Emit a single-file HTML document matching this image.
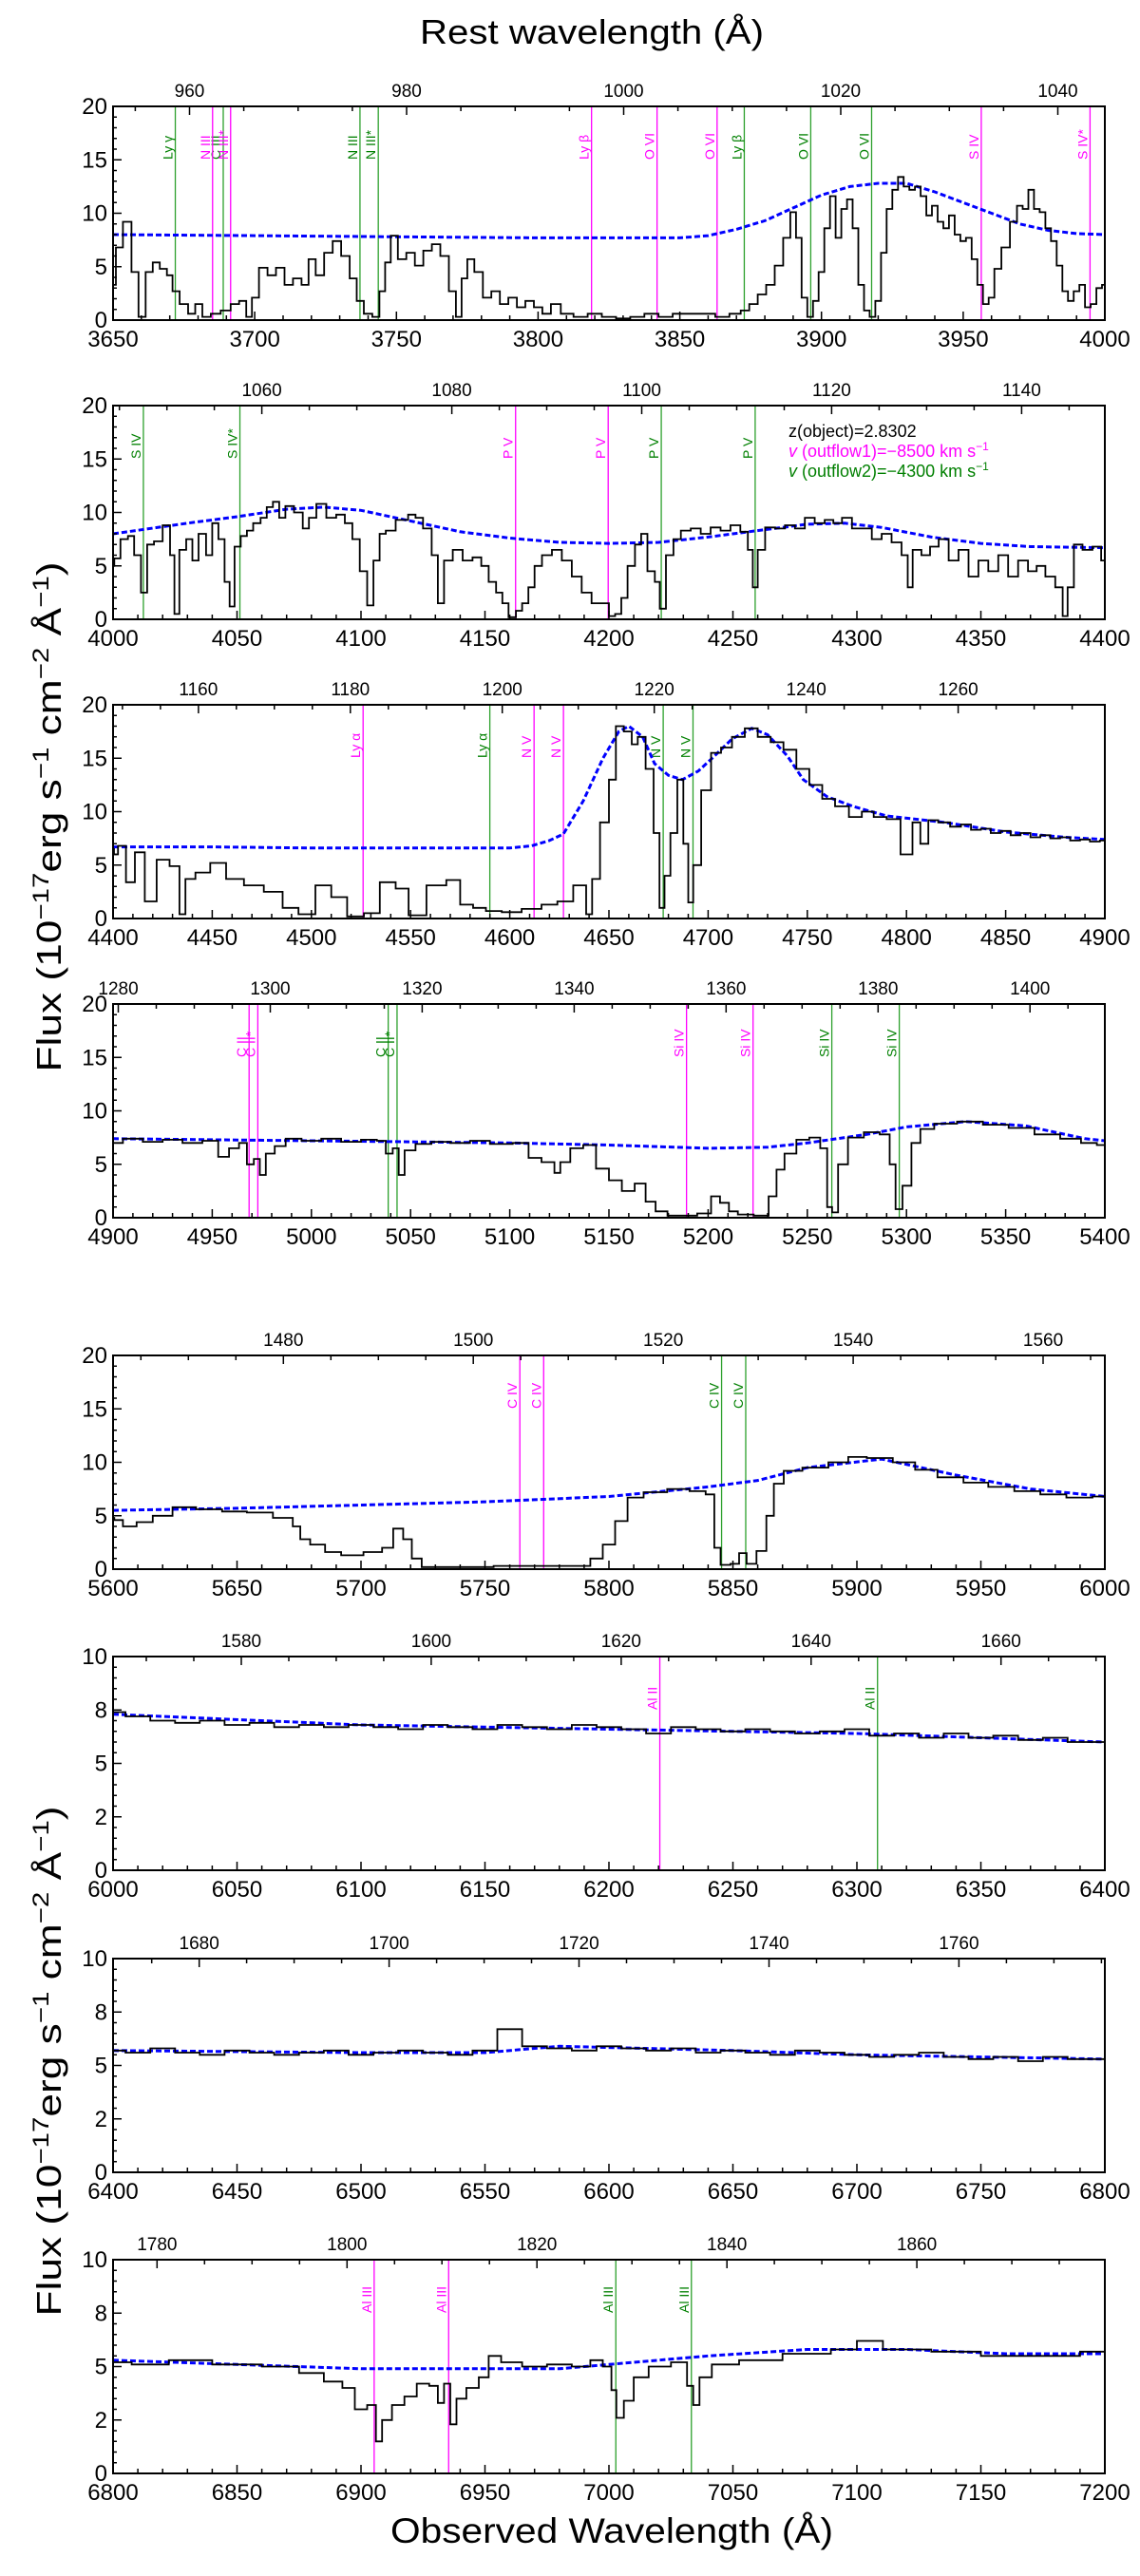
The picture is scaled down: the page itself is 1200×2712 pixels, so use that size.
<!DOCTYPE html>
<html><head><meta charset="utf-8"><style>
html,body{margin:0;padding:0;background:#fff}
svg{display:block;font-family:"Liberation Sans",sans-serif}
</style></head><body>
<svg id="fig" width="1200" height="2712" viewBox="0 0 1200 2712" xmlns="http://www.w3.org/2000/svg">
<text x="623" y="46" font-size="36" text-anchor="middle" textLength="362" lengthAdjust="spacingAndGlyphs">Rest wavelength (Å)</text>
<text x="644" y="2677" font-size="37" text-anchor="middle" textLength="466" lengthAdjust="spacingAndGlyphs">Observed Wavelength (Å)</text>
<text transform="translate(64,860) rotate(-90)" font-size="36" text-anchor="middle" textLength="537" lengthAdjust="spacingAndGlyphs">Flux (10<tspan font-size="24" dy="-13">−17</tspan><tspan dy="13">erg s</tspan><tspan font-size="24" dy="-13">−1</tspan><tspan dy="13"> cm</tspan><tspan font-size="24" dy="-13">−2</tspan><tspan dy="13"> Å</tspan><tspan font-size="24" dy="-13">−1</tspan><tspan dy="13">)</tspan></text>
<text transform="translate(64,2170) rotate(-90)" font-size="36" text-anchor="middle" textLength="537" lengthAdjust="spacingAndGlyphs">Flux (10<tspan font-size="24" dy="-13">−17</tspan><tspan dy="13">erg s</tspan><tspan font-size="24" dy="-13">−1</tspan><tspan dy="13"> cm</tspan><tspan font-size="24" dy="-13">−2</tspan><tspan dy="13"> Å</tspan><tspan font-size="24" dy="-13">−1</tspan><tspan dy="13">)</tspan></text>
</svg>
<script>
// ---- data ----
const zObject = 2.8302;
const vOutflow1 = -8500;
const vOutflow2 = -4300;

const lineRest = [972.54,977.02,989.80,991.51,989.80,991.51,1025.72,1025.72,1031.93,1031.93,1037.62,1037.62,1062.66,1062.66,1072.97,1072.97,1117.98,1117.98,1128.01,1128.01,1215.67,1215.67,1238.82,1238.82,1242.80,1242.80,1334.53,1334.53,1335.71,1335.71,1393.76,1393.76,1402.77,1402.77,1548.19,1548.19,1550.77,1550.77,1670.79,1670.79,1854.72,1854.72,1862.79,1862.79];
const lineName = ["Ly γ","C III","N III","N III*","N III","N III*","Ly β","Ly β","O VI","O VI","O VI","O VI","S IV","S IV","S IV*","S IV*","P V","P V","P V","P V","Ly α","Ly α","N V","N V","N V","N V","C II","C II","C II*","C II*","Si IV","Si IV","Si IV","Si IV","C IV","C IV","C IV","C IV","Al II","Al II","Al III","Al III","Al III","Al III"];
const lineComp = [2,2,1,1,2,2,1,2,1,2,1,2,1,2,1,2,1,2,1,2,1,2,1,2,1,2,1,2,1,2,1,2,1,2,1,2,1,2,1,2,1,2,1,2];

const p1Wave = [3650,3652,3655,3658,3660,3663,3665,3668,3670,3672,3675,3678,3680,3683,3686,3690,3693,3696,3698,3700,3703,3706,3709,3712,3715,3718,3720,3723,3726,3729,3732,3735,3737,3740,3743,3745,3747,3749,3752,3755,3758,3761,3764,3767,3770,3772,3774,3776,3779,3782,3785,3788,3791,3794,3797,3800,3803,3806,3810,3815,3820,3825,3830,3835,3840,3845,3850,3855,3860,3865,3870,3873,3876,3879,3882,3885,3888,3890,3892,3894,3896,3898,3900,3902,3904,3906,3908,3910,3912,3914,3916,3918,3920,3922,3924,3926,3928,3930,3932,3934,3936,3938,3940,3942,3944,3946,3948,3950,3952,3954,3956,3958,3960,3962,3965,3968,3970,3972,3974,3976,3978,3980,3982,3984,3986,3988,3990,3992,3994,3996,3998,4000];
const p1Flux = [3.3,6.8,9.2,4.5,0.3,4.5,5.4,4.8,4.2,2.7,1.5,0.6,1.5,0.3,0.6,0.9,1.5,1.8,0.3,2.1,4.9,4.2,4.9,3.3,3.9,3.3,5.7,4.2,6.3,7.4,6,3.9,1.8,0.6,0.3,2.7,5.4,7.9,5.7,6.3,5.1,6.5,7.1,6,2.7,0.3,3.9,5.7,4.5,2.1,2.7,1.5,2.1,1.2,1.8,1.2,0.6,1.5,0.6,0.3,0.6,0.3,0.15,0.3,0.6,0.3,0.6,0.6,0.6,0.3,0.6,0.9,1.5,2.4,3.3,5.1,7.7,10.1,7.7,2.1,0.3,1.8,4.5,8.6,11.6,7.7,10.4,11.3,8.6,3.3,0.9,0.3,1.8,6.3,10.4,12.2,13.4,12.5,12.2,12.5,11.6,9.8,10.7,9.2,8.6,9.8,8,7.4,7.7,5.7,3.3,1.5,2.1,4.8,6.8,9.2,10.7,10.4,12.2,10.4,10.1,8.6,7.4,5.1,2.7,1.8,2.7,3.3,1.2,1.5,3,3.3];
const p1ContWave = [3650,3700,3750,3800,3850,3860,3870,3880,3890,3900,3910,3920,3930,3940,3950,3960,3970,3980,3990,4000];
const p1ContFlux = [8.0,7.9,7.8,7.7,7.7,7.9,8.5,9.3,10.5,11.7,12.5,12.8,12.8,12.0,11.0,10.0,9.0,8.4,8.1,8.0];

const p2Wave = [4000,4001,4005,4007,4010,4012.5,4015,4018,4022,4024,4025.5,4028,4031,4033,4036,4039,4041,4044,4046,4048,4050,4053,4055,4058,4061,4063,4066,4068,4071,4075,4078,4080,4084,4088,4092,4095,4098,4101,4104,4106,4109,4111,4117,4121,4123,4127,4130,4132,4135,4139,4143,4147,4150,4153,4156,4158,4161,4164,4166,4169,4171,4175,4179,4183,4187,4191,4195,4199,4201,4204,4206,4209,4212,4214,4217,4220,4221,4225,4227,4231,4235,4239,4243,4247,4251,4255,4257,4259,4261,4265,4269,4273,4277,4281,4285,4289,4292,4296,4300,4304,4308,4312,4316,4320,4321,4324,4328,4331,4335,4339,4343,4347,4351,4355,4359,4363,4367,4371,4374,4378,4382,4384,4386,4389,4393,4397,4400];
const p2Flux = [5.0,5.7,7.5,7.8,6.0,2.5,7.0,7.3,8.8,6.0,0.5,6.5,7.5,5.5,8.0,6.0,9.0,7.5,3.5,1.2,6.8,7.8,8.3,9.0,9.5,10.5,11.0,9.5,10.6,10.0,8.5,9.5,10.8,9.5,9.8,9.0,7.5,4.5,1.3,5.5,8.0,8.3,9.3,9.8,9.5,8.5,6.0,1.5,5.5,6.5,5.5,5.8,5.0,3.5,2.5,1.5,0.2,0.8,1.5,3.0,5.0,6.0,6.5,5.5,4.0,2.5,1.5,1.5,0.3,0.5,2.0,5.0,7.0,8.0,4.5,3.5,1.0,6.0,7.5,8.3,8.5,8.0,8.6,8.3,8.8,8.2,6.5,3.0,6.5,8.6,8.5,8.8,8.5,9.5,9.0,9.3,9.0,9.5,8.5,8.5,7.5,8.0,7.2,6.0,3.0,6.5,6.0,6.8,7.5,5.5,6.5,4.0,5.5,4.5,6.0,4.0,5.5,4.5,5.0,4.0,3.0,0.3,3.0,7.0,6.5,6.8,5.5];
const p2ContWave = [4000,4030,4050,4070,4085,4100,4120,4140,4160,4180,4200,4220,4240,4260,4280,4295,4310,4330,4350,4370,4400];
const p2ContFlux = [8.0,9.0,9.6,10.3,10.5,10.2,9.2,8.2,7.6,7.2,7.1,7.2,7.7,8.3,8.9,9.0,8.6,7.7,7.1,6.8,6.7];

const p3Wave = [4400,4401,4404,4409,4413,4419,4425,4432,4435,4438,4445,4453,4461,4471,4481,4490,4497,4507,4513,4523,4530,4539,4546,4552,4564,4572,4578,4585,4591,4601,4611,4621,4627,4637,4640,4643,4648,4652,4655,4660,4663,4666,4671,4674,4677,4679,4683,4686,4689,4691,4694,4699,4704,4709,4715,4722,4728,4735,4741,4748,4754,4761,4767,4775,4780,4787,4793,4801,4805,4809,4813,4819,4825,4830,4835,4840,4845,4850,4855,4860,4865,4870,4875,4880,4885,4890,4895,4900];
const p3Flux = [6.5,6.0,6.8,3.4,6.2,1.6,5.5,4.9,0.4,3.7,4.3,5.2,3.7,3.1,2.5,1.0,0.4,3.1,2.0,0.2,0.5,3.4,2.8,0.3,3.1,3.6,1.3,1.0,0.7,0.6,0.9,1.3,1.6,3.1,0.4,3.7,9.0,13.0,18.0,17.5,16.3,17.0,14.0,8.0,1.0,4.0,8.0,13.0,7.0,1.5,5.0,12.0,15.5,16.0,17.0,17.8,17.0,16.5,15.8,14.0,12.5,11.2,10.5,9.5,10.0,9.5,9.3,6.0,9.0,7.0,9.2,9.0,8.6,8.8,8.3,8.4,8.0,8.2,7.8,8.0,7.6,7.8,7.5,7.6,7.3,7.4,7.2,7.3];
const p3ContWave = [4400,4450,4500,4550,4600,4611,4620,4627,4637,4647,4655,4660,4667,4673,4680,4687,4695,4702,4712,4722,4730,4740,4748,4760,4773,4790,4819,4850,4880,4900];
const p3ContFlux = [6.7,6.7,6.6,6.6,6.6,6.8,7.3,7.9,11.0,15.0,17.5,18.0,17.0,14.5,13.4,13.0,13.8,15.0,16.8,17.8,17.2,15.2,13.0,11.4,10.5,9.6,9.0,8.1,7.6,7.4];

const p4Wave = [4900,4910,4920,4930,4940,4950,4956,4961,4966,4969,4973,4975,4979,4984,4990,5000,5010,5020,5030,5036,5039,5043,5045,5049,5056,5065,5075,5085,5095,5108,5111,5121,5124,5127,5134,5140,5147,5153,5160,5166,5171,5176,5183,5189,5200,5203,5209,5212,5218,5228,5233,5236,5241,5248,5254,5259,5261,5264,5267,5274,5283,5290,5293,5296,5300,5305,5309,5319,5332,5345,5358,5371,5384,5392,5400];
const p4Flux = [7.0,7.4,7.1,7.3,7.0,7.2,5.7,6.5,7.0,5.0,5.5,4.0,6.0,6.7,7.4,7.2,7.4,7.1,7.3,7.2,6.0,6.5,4.0,6.3,6.9,7.1,7.0,7.2,6.9,7.0,5.6,5.2,4.2,5.2,6.5,6.8,4.6,3.5,2.5,3.2,1.5,0.6,0.2,0.2,0.4,2.0,1.4,0.6,0.3,0.2,2.0,4.5,6.0,7.3,7.5,6.5,1.0,0.5,5.0,7.5,8.0,7.8,5.0,0.8,3.0,7.0,8.3,8.8,9.0,8.7,8.4,7.8,7.4,7.0,6.8];
const p4ContWave = [4900,4950,5000,5050,5100,5150,5200,5230,5250,5280,5300,5330,5360,5390,5400];
const p4ContFlux = [7.4,7.3,7.2,7.1,7.0,6.8,6.5,6.6,7.0,7.8,8.5,9.0,8.6,7.4,7.2];

const p5Wave = [5600,5601,5607,5612,5620,5628,5639,5649,5659,5670,5675,5676,5683,5688,5696,5706,5711,5715,5719,5722,5727,5743,5764,5779,5790,5795,5800,5805,5810,5818,5829,5836,5842,5843,5847,5851,5854,5857,5862,5865,5868,5873,5883,5894,5899,5909,5920,5927,5938,5948,5958,5969,5979,5990,6000];
const p5Flux = [4.8,4.6,4.0,4.4,5.0,5.8,5.6,5.4,5.3,4.8,4.0,2.8,2.3,1.6,1.3,1.6,2.0,3.8,2.8,1.0,0.2,0.2,0.3,0.3,0.3,1.0,2.3,4.5,6.7,7.2,7.5,7.3,7.0,2.0,0.4,0.5,1.5,0.5,1.7,5.0,8.0,9.2,9.5,10.0,10.5,10.4,10.0,9.3,8.6,8.1,7.7,7.3,7.0,6.7,6.8];
const p5ContWave = [5600,5650,5700,5750,5800,5840,5860,5880,5910,5940,5970,6000];
const p5ContFlux = [5.5,5.7,6.0,6.3,6.8,7.7,8.3,9.5,10.3,8.8,7.5,6.8];

const p6Wave = [6000,6010,6020,6030,6040,6050,6060,6070,6080,6090,6100,6110,6120,6130,6140,6150,6160,6170,6180,6190,6200,6210,6220,6230,6240,6250,6260,6270,6280,6290,6300,6310,6320,6330,6340,6350,6360,6370,6380,6390,6400];
const p6Flux = [7.4,7.2,7.0,6.9,7.0,6.8,6.9,6.7,6.8,6.7,6.8,6.7,6.6,6.8,6.7,6.6,6.8,6.7,6.6,6.8,6.7,6.6,6.4,6.7,6.6,6.5,6.6,6.5,6.4,6.5,6.6,6.3,6.4,6.2,6.4,6.2,6.3,6.1,6.2,6.0,6.0];
const p6ContWave = [6000,6100,6200,6300,6400];
const p6ContFlux = [7.3,6.8,6.6,6.4,6.0];

const p7Wave = [6400,6410,6420,6430,6440,6450,6460,6470,6480,6490,6500,6510,6520,6530,6540,6550,6560,6570,6580,6590,6600,6610,6620,6630,6640,6650,6660,6670,6680,6690,6700,6710,6720,6730,6740,6750,6760,6770,6780,6790,6800];
const p7Flux = [5.7,5.6,5.8,5.6,5.5,5.7,5.6,5.5,5.6,5.7,5.5,5.6,5.7,5.6,5.5,5.7,6.7,5.9,5.8,5.7,5.9,5.8,5.7,5.8,5.6,5.7,5.6,5.5,5.7,5.6,5.5,5.4,5.5,5.6,5.4,5.3,5.4,5.2,5.4,5.3,5.3];
const p7ContWave = [6400,6500,6550,6580,6650,6700,6800];
const p7ContFlux = [5.7,5.6,5.6,5.9,5.7,5.5,5.3];

const p8Wave = [6800,6815,6830,6850,6870,6880,6890,6895,6900,6905,6907,6910,6915,6920,6925,6930,6932,6935,6937,6940,6945,6950,6953,6960,6970,6980,6990,6995,7000,7002,7004,7008,7012,7020,7030,7033,7035,7038,7045,7060,7080,7099,7101,7120,7140,7160,7180,7200];
const p8Flux = [5.2,5.1,5.3,5.1,5.0,4.7,4.3,4.0,3.0,3.2,1.5,2.5,3.2,3.6,4.2,4.1,3.3,4.2,2.3,3.5,4.0,4.5,5.5,5.2,5.0,5.1,5.0,5.3,5.0,3.9,2.6,3.4,4.5,5.0,5.2,4.1,3.2,4.5,5.1,5.3,5.6,5.8,6.2,5.8,5.7,5.5,5.5,5.7];
const p8ContWave = [6800,6850,6900,6940,6980,7000,7040,7080,7120,7160,7200];
const p8ContFlux = [5.3,5.1,4.9,4.9,4.9,5.1,5.5,5.8,5.8,5.6,5.6];

// ---- layout ----
const SVGNS = "http://www.w3.org/2000/svg";
const svg = document.getElementById('fig');
const X0 = 119, X1 = 1163, PH = 225;
const panels = [
  {top:112, xmin:3650, xmax:4000, ymax:20, w:p1Wave, f:p1Flux, cw:p1ContWave, cf:p1ContFlux},
  {top:427, xmin:4000, xmax:4400, ymax:20, w:p2Wave, f:p2Flux, cw:p2ContWave, cf:p2ContFlux},
  {top:742, xmin:4400, xmax:4900, ymax:20, w:p3Wave, f:p3Flux, cw:p3ContWave, cf:p3ContFlux},
  {top:1057, xmin:4900, xmax:5400, ymax:20, w:p4Wave, f:p4Flux, cw:p4ContWave, cf:p4ContFlux},
  {top:1427, xmin:5600, xmax:6000, ymax:20, w:p5Wave, f:p5Flux, cw:p5ContWave, cf:p5ContFlux},
  {top:1744, xmin:6000, xmax:6400, ymax:10, w:p6Wave, f:p6Flux, cw:p6ContWave, cf:p6ContFlux},
  {top:2062, xmin:6400, xmax:6800, ymax:10, w:p7Wave, f:p7Flux, cw:p7ContWave, cf:p7ContFlux},
  {top:2379, xmin:6800, xmax:7200, ymax:10, w:p8Wave, f:p8Flux, cw:p8ContWave, cf:p8ContFlux}
];
function mk(tag, attrs, parent){
  const e = document.createElementNS(SVGNS, tag);
  for (const k in attrs) e.setAttribute(k, attrs[k]);
  (parent||svg).appendChild(e);
  return e;
}
function relFactor(v){ const b = v/299792.458; return Math.sqrt((1+b)/(1-b)); }
const f1 = (1+zObject)*relFactor(vOutflow1);
const f2 = (1+zObject)*relFactor(vOutflow2);

panels.forEach((p, pi) => {
  const g = mk('g', {});
  
  
  const xs = w => X0 + (w - p.xmin)/(p.xmax - p.xmin)*(X1 - X0);
  const ys = f => p.top + PH - Math.max(0, Math.min(f, p.ymax))/p.ymax*PH;
  const bot = p.top + PH;

  // absorption line markers
  for (let i = 0; i < lineRest.length; i++) {
    const obs = lineRest[i]*(lineComp[i]===1 ? f1 : f2);
    if (obs < p.xmin || obs > p.xmax) continue;
    const col = lineComp[i]===1 ? '#ff00ff' : '#008000';
    const x = xs(obs);
    const ln = mk('line', {x1:x, x2:x, y1:p.top, y2:bot, stroke: lineComp[i]===1 ? '#ff00ff' : '#2ca02c', 'stroke-width':1.3}, g);
    
    
    const t = mk('text', {transform:`translate(${x-3},${p.top+56}) rotate(-90)`, 'font-size':14, fill:col}, g);
    t.textContent = lineName[i];
    
    
  }

  // continuum
  let cd = '';
  p.cw.forEach((w, i) => { cd += (i ? 'L' : 'M') + xs(w).toFixed(1) + ' ' + ys(p.cf[i]).toFixed(1); });
  const cont = mk('path', {d:cd, fill:'none', stroke:'#0000ff', 'stroke-width':3, 'stroke-dasharray':'6 3'}, g);
  
  

  // spectrum (steps-mid)
  let d = 'M' + xs(p.w[0]).toFixed(1) + ' ' + ys(p.f[0]).toFixed(1);
  for (let i = 1; i < p.w.length; i++) {
    const mid = (p.w[i-1] + p.w[i])/2;
    d += 'H' + xs(mid).toFixed(1) + 'V' + ys(p.f[i]).toFixed(1);
  }
  d += 'H' + xs(p.w[p.w.length-1]).toFixed(1);
  const sp = mk('path', {d:d, fill:'none', stroke:'#000', 'stroke-width':1.8}, g);
  
  

  // frame
  const fr = mk('rect', {x:X0, y:p.top, width:X1-X0, height:PH, fill:'none', stroke:'#000', 'stroke-width':2}, g);
  
  

  // bottom ticks
  let td = '';
  for (let w = Math.ceil(p.xmin/10)*10; w <= p.xmax; w += 10) {
    const major = w % 50 === 0;
    const x = xs(w);
    td += `M${x.toFixed(1)} ${bot}v${major ? -9 : -5}`;
    if (major) {
      const t = mk('text', {x:x, y:bot+28, 'font-size':24, 'text-anchor':'middle'}, g);
      t.textContent = w;
      
      
    }
  }
  // top rest ticks
  const rmin = p.xmin/(1+zObject), rmax = p.xmax/(1+zObject);
  for (let r = Math.ceil(rmin/5)*5; r <= rmax; r += 5) {
    const major = r % 20 === 0;
    const x = xs(r*(1+zObject));
    td += `M${x.toFixed(1)} ${p.top}v${major ? 9 : 5}`;
    if (major) {
      const t = mk('text', {x:x, y:p.top-10, 'font-size':19, 'text-anchor':'middle'}, g);
      t.textContent = r;
      
      
    }
  }
  // left ticks
  const minorStep = p.ymax === 20 ? 1 : 0.5;
  for (let v = 0; v <= p.ymax + 1e-6; v += minorStep) {
    td += `M${X0} ${ys(v).toFixed(1)}h4`;
  }
  const majorStep = p.ymax === 20 ? 5 : 2.5;
  for (let v = 0; v <= p.ymax + 1e-6; v += majorStep) {
    td += `M${X0} ${ys(v).toFixed(1)}h9`;
    const t = mk('text', {x:X0-6, y:ys(v)+8, 'font-size':24, 'text-anchor':'end'}, g);
    t.textContent = p.ymax === 20 ? v : Math.round(v + (v===2.5 ? -0.5 : 0));
    
    
  }
  const ticks = mk('path', {d:td, stroke:'#000', 'stroke-width':1.5, fill:'none'}, g);
  
  
});

// annotation in panel 2
const ann = [["z(object)=2.8302", '#000', 460], ["(outflow1)=−8500 km s", '#ff00ff', 481], ["(outflow2)=−4300 km s", '#008000', 502]];
ann.forEach((a, i) => {
  const t = mk('text', {x:830, y:a[2], 'font-size':18, fill:a[1]});
  
  
  if (i === 0) { t.textContent = a[0]; return; }
  const v = mk('tspan', {'font-style':'italic'}, t); v.textContent = 'v ';
  const m = mk('tspan', {}, t); m.textContent = a[0];
  const s = mk('tspan', {'font-size':12, dy:-7}, t); s.textContent = '−1';
});
</script>
</body></html>
